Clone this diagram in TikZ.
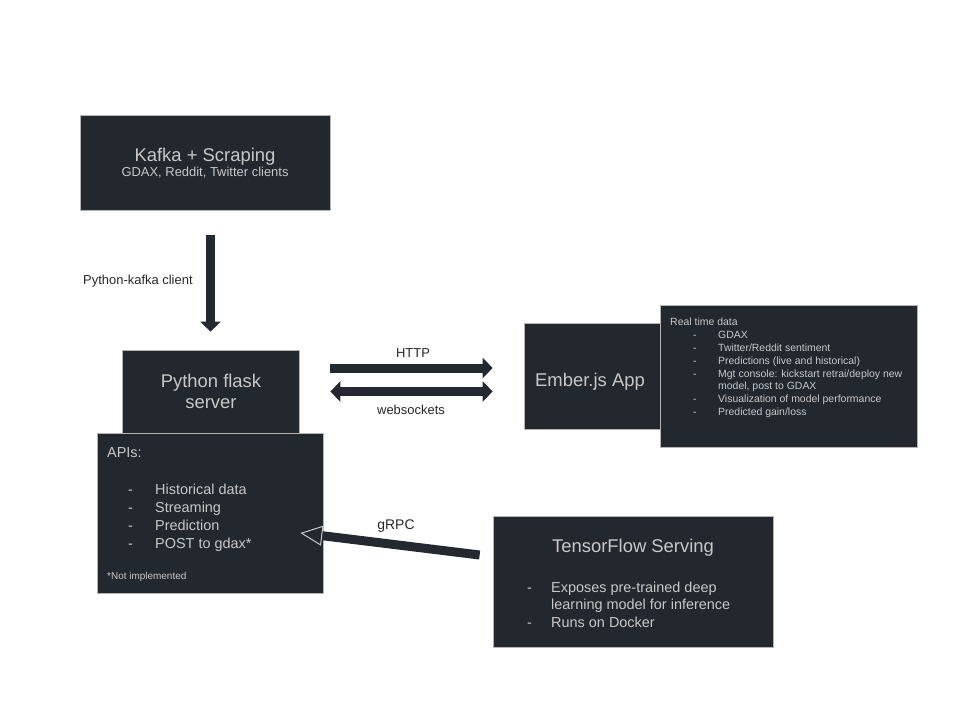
\documentclass[tikz,border=0pt]{standalone}
\usepackage{fontspec}
\setmainfont{Liberation Sans}
\usetikzlibrary{arrows.meta}
\definecolor{panelfill}{HTML}{23272E}
\definecolor{paneledge}{HTML}{B4B4B4}
\definecolor{paneltext}{HTML}{C8C8C8}
\definecolor{arrowdark}{HTML}{242830}
\newcommand{\fbig}{\fontsize{18.5}{22}\selectfont}
\newcommand{\fmid}{\fontsize{14.5}{17}\selectfont}
\newcommand{\fsmall}{\fontsize{10.5}{12.9}\selectfont}
\tikzset{
  panel/.style={draw=paneledge, line width=0.7bp, fill=panelfill, inner sep=0pt},
  intext/.style={text=paneltext, inner sep=0pt, anchor=base west},
  midtext/.style={text=paneltext, inner sep=0pt, anchor=base},
  lbl/.style={text=black!85, inner sep=0pt, anchor=base, font=\fontsize{13}{15}\selectfont},
  fatarrow/.style={draw=arrowdark, line width=9bp, -{Triangle[width=20bp,length=10bp]}},
  bothways/.style={draw=arrowdark, line width=9bp,
    {Triangle[width=20bp,length=10bp]}-{Triangle[width=20bp,length=10bp]}},
  openarrow/.style={draw=arrowdark, line width=9bp,
    -{Triangle[open,width=20bp,length=22bp,line width=1bp,color=paneltext]}},
}
\begin{document}
\begin{tikzpicture}[x=1bp,y=-1bp]
  \useasboundingbox (0,0) rectangle (960,720);
  % boxes
  \node[panel, minimum width=250bp, minimum height=95bp] (kafka) at (205,162.5) {};
  \node[panel, minimum width=177bp, minimum height=83bp] (flask) at (210.5,391.5) {};
  \node[panel, minimum width=226bp, minimum height=160bp] (apis) at (210,513) {};
  \node[panel, minimum width=136bp, minimum height=106bp] (ember) at (592,376) {};
  \node[panel, minimum width=257bp, minimum height=142bp] (realtime) at (788.5,376) {};
  \node[panel, minimum width=280bp, minimum height=131bp] (tf) at (633,581.5) {};
  % box texts
  \node[midtext, font=\fbig] (kafka-title) at (205,162) {Kafka + Scraping};
  \node[midtext, font=\fontsize{13}{15}\selectfont] (kafka-sub) at (205,177) {GDAX, Reddit, Twitter clients};
  \node[midtext, font=\fbig] (flask-a) at (211,387) {Python flask};
  \node[midtext, font=\fbig] (flask-b) at (211,408) {server};
  \node[midtext, font=\fbig] (ember-title) at (590,386) {Ember.js App};
  \node[midtext, font=\fbig] (tf-title) at (633,552) {TensorFlow Serving};
  \node[intext, font=\fmid] (apis-head) at (107,457) {APIs:};
  \foreach \y/\t in {494/Historical data, 512/Streaming, 530/Prediction, 548/POST to gdax*}{
    \node[intext, font=\fmid] (apidash-\y) at (128,\y) {-};
    \node[intext, font=\fmid] (api-\y) at (155,\y) {\t};
  }
  \node[intext, font=\fontsize{10}{12}\selectfont] (apis-note) at (107,579) {*Not implemented};
  \node[intext, font=\fsmall] (rt-head) at (670,325) {Real time data};
  \foreach \y/\t in {338/GDAX, 351/{Twitter/Reddit sentiment}, 364/Predictions (live and historical),
      377/{Mgt console: kickstart retrai/deploy new}, 402/Visualization of model performance,
      415/{Predicted gain/loss}}{
    \node[intext, font=\fsmall] (rtdash-\y) at (693,\y) {-};
    \node[intext, font=\fsmall] (rt-\y) at (718,\y) {\t};
  }
  \node[intext, font=\fsmall] (rt-389) at (718,389.5) {model, post to GDAX};
  \foreach \y in {592,627}{
    \node[intext, font=\fmid] (tfdash-\y) at (527,\y) {-};
  }
  \node[intext, font=\fmid] (tf-a) at (551,592) {Exposes pre-trained deep};
  \node[intext, font=\fmid] (tf-b) at (551,609) {learning model for inference};
  \node[intext, font=\fmid] (tf-c) at (551,627) {Runs on Docker};
  % connectors
  \draw[fatarrow, shorten <=25bp, shorten >=18bp] (kafka.south -| flask.north) -- (flask.north);
  \draw[fatarrow, shorten <=31bp, shorten >=31bp] ([yshift=23.5bp]flask.east) -- ([yshift=23.5bp]flask.east -| ember.west);
  \draw[bothways, shorten <=31bp, shorten >=31bp] (flask.east) -- (flask.east -| ember.west);
  \draw[openarrow] ([shift={(-13,-26.5)}]tf.west) -- ([shift={(-23,20)}]apis.east);
  % labels
  \node[lbl, anchor=base west] (kafka-lbl) at (83,284) {Python-kafka client};
  \node[lbl] (http-lbl) at (413,357) {HTTP};
  \node[lbl] (ws-lbl) at (411,414) {websockets};
  \node[lbl, font=\fontsize{14}{16}\selectfont] (grpc-lbl) at (396,529) {gRPC};
\end{tikzpicture}
\end{document}
